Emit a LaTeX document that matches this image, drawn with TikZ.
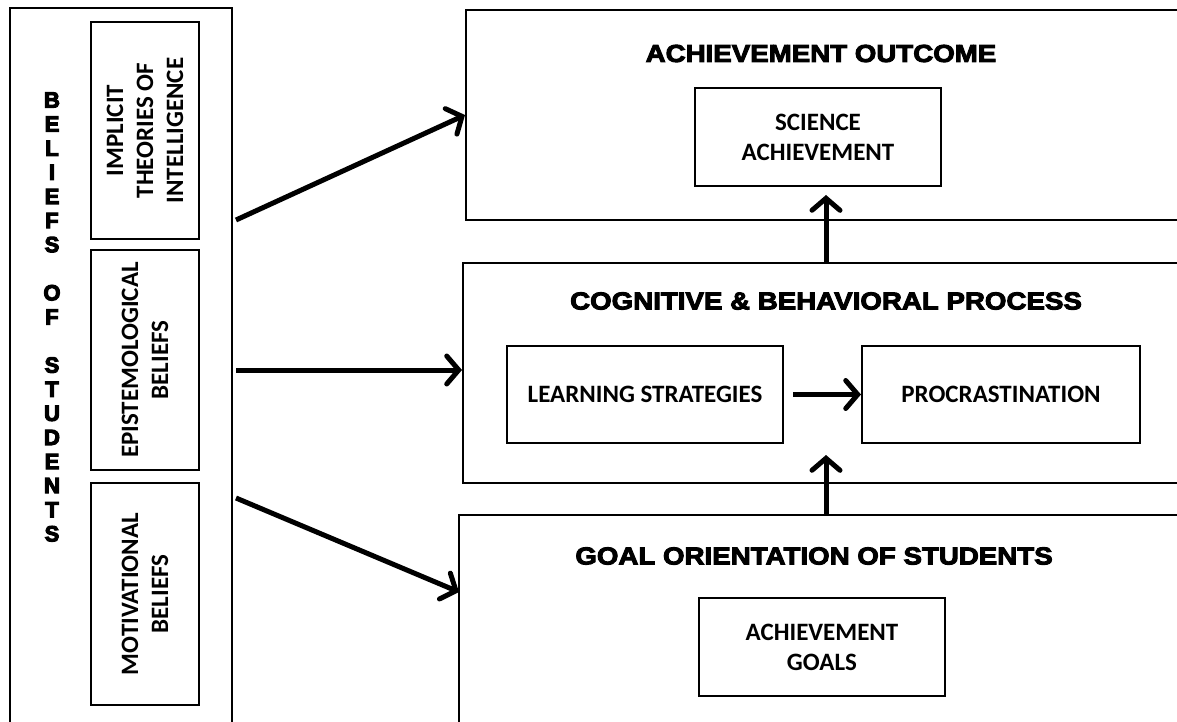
\documentclass[tikz,border=0pt]{standalone}
\usepackage{fontspec}
\setmainfont{Carlito}
\newfontfamily\headfont{Liberation Sans Bold}[FakeBold=4,FakeStretch=1.13]
\newfontfamily\sidefont{Liberation Sans Bold}[FakeBold=5]
\usetikzlibrary{arrows.meta}

\begin{document}
\begin{tikzpicture}[x=1pt,y=-1pt,
  frame/.style={draw,line width=2pt,inner sep=0pt},
  labelfont/.style={font=\bfseries\fontsize{25}{30}\selectfont},
  headfont/.style={font=\headfont\fontsize{24.5}{28}\selectfont},
  arr/.style={line width=5pt,-{Straight Barb[length=12pt,width=28pt,line cap=round]}}]
\useasboundingbox (0,0) rectangle (1177,722);
\clip (0,0) rectangle (1177,722);

% left column: beliefs of students
\node[frame,minimum width=222,minimum height=722] (beliefs) at (121,369) {};
\node[font=\sidefont\fontsize{22}{24.1}\selectfont,align=center]
  (btitle) at (52,317) {B\\E\\L\\I\\E\\F\\S\\~\\O\\F\\~\\S\\T\\U\\D\\E\\N\\T\\S};
\node[frame,labelfont,rotate=90,minimum width=217,minimum height=108,align=center]
  (implicit) at (145,130.5) {IMPLICIT\\THEORIES OF\\INTELLIGENCE};
\node[frame,labelfont,rotate=90,minimum width=220,minimum height=108,align=center]
  (episte) at (145,360) {EPISTEMOLOGICAL\\BELIEFS};
\node[frame,labelfont,rotate=90,minimum width=222,minimum height=108,align=center]
  (motiv) at (145,594) {MOTIVATIONAL\\BELIEFS};

% right column: outcome, process, goal orientation
\node[frame,minimum width=734,minimum height=210] (ach) at (833,115) {};
\node[headfont] (achT) at (821,53.5) {ACHIEVEMENT OUTCOME};
\node[frame,labelfont,minimum width=246,minimum height=98,align=center]
  (sci) at (818,137) {SCIENCE\\ACHIEVEMENT};

\node[frame,minimum width=737,minimum height=220] (cog) at (831.5,373) {};
\node[headfont] (cogT) at (826,301) {COGNITIVE \& BEHAVIORAL PROCESS};
\node[frame,labelfont,minimum width=276,minimum height=97] (learn) at (645,394.5) {LEARNING STRATEGIES};
\node[frame,labelfont,minimum width=278,minimum height=97] (proc) at (1001,394.5) {PROCRASTINATION};

\node[frame,minimum width=741,minimum height=225] (goal) at (829.5,627.5) {};
\node[headfont] (goalT) at (814,556) {GOAL ORIENTATION OF STUDENTS};
\node[frame,labelfont,minimum width=246,minimum height=98,align=center]
  (agoals) at (822,647) {ACHIEVEMENT\\GOALS};

% connector ends
\coordinate (b1) at (236,220);
\coordinate (b2) at (236,370);
\coordinate (b3) at (236,498);
\coordinate (g-in) at (459,592);
\coordinate (c-out) at (826,263);
\coordinate (a-in) at (826,195);
\coordinate (g-out) at (826,515);
\coordinate (c-in) at (826,455);

% connectors
\draw[arr] (b1) -- (ach.west);
\draw[arr] (b2) -- (b2 -| cog.west);
\draw[arr] (b3) -- (g-in);
\draw[arr] (c-out) -- (a-in);
\draw[arr] (g-out) -- (c-in);
\draw[arr,shorten <=9pt] (learn.east) -- (proc.west);
\end{tikzpicture}
\end{document}
